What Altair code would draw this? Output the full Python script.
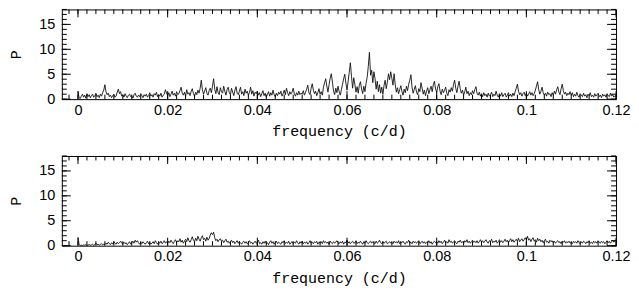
import altair as alt
import pandas as pd

# ---------------- data ----------------
F_STEP = 0.00025  # frequency grid step (c/d), starting at 0

top_power = (
    [1.6, 0.3, 0.1, 0.6, 1.0, 0.4, 0.8, 0.2, 1.1, 0.5, 0.9, 0.3, 0.7, 1.0, 0.4, 0.6, 1.2, 0.5, 0.8, 0.3,
     1.0, 0.6, 1.3, 1.8, 2.9, 1.5, 0.9, 1.2, 0.5, 0.8, 0.3, 0.7, 1.0, 0.4, 0.6, 1.4, 2.0, 1.1, 1.5, 0.6]
    + [0.9, 0.4, 1.1, 0.6, 0.3, 0.8, 1.0, 0.5, 0.7, 0.2, 0.9, 1.2, 0.6, 0.4, 0.8, 0.5, 1.1, 0.7, 0.3, 0.9,
       0.6, 1.0, 0.4, 0.7, 1.3, 0.6, 0.9, 0.4, 1.1, 0.8, 1.4, 0.5, 0.9, 0.6, 1.2, 0.4, 0.8, 1.0, 1.9, 1.2]
    + [0.7, 1.3, 0.5, 1.0, 1.6, 0.8, 1.2, 0.6, 1.5, 0.9, 1.1, 1.7, 2.4, 1.2, 0.8, 1.4, 0.6, 1.9, 1.0, 1.3,
       0.7, 1.6, 2.1, 1.1, 0.6, 1.4, 0.9, 1.8, 1.2, 2.2, 3.8, 1.9, 1.0, 1.6, 2.3, 1.2, 0.8, 1.7, 2.2, 1.3]
    + [2.6, 4.1, 2.0, 1.1, 2.5, 1.3, 0.9, 2.3, 1.5, 1.2, 2.6, 1.6, 0.8, 1.9, 2.4, 1.3, 0.9, 2.2, 1.4, 0.7,
       1.8, 2.5, 1.2, 0.9, 1.6, 2.4, 1.0, 1.5, 0.7, 2.0, 1.2, 1.6, 0.8, 1.3, 2.4, 1.0, 1.7, 0.6, 1.4, 1.1]
    + [1.6, 0.8, 1.3, 0.5, 1.1, 1.7, 0.7, 1.2, 0.4, 1.0, 1.5, 0.6, 1.3, 0.8, 1.8, 0.9, 0.5, 1.2, 0.7, 1.4,
       1.0, 1.6, 0.6, 1.1, 1.8, 0.9, 2.2, 1.3, 0.7, 1.5, 1.0, 1.4, 2.2, 1.1, 0.6, 1.3, 0.8, 1.6, 0.9, 1.2]
    + [1.0, 1.7, 0.8, 1.4, 2.0, 2.8, 1.3, 0.9, 2.2, 3.1, 1.8, 1.1, 1.6, 0.7, 1.3, 2.1, 1.0, 1.5, 0.8, 2.4,
       3.3, 4.1, 2.6, 1.4, 2.9, 4.2, 5.1, 3.4, 1.6, 0.9, 2.2, 1.3, 2.6, 1.5, 0.8, 1.9, 3.0, 4.1, 5.0, 3.2]
    + [1.8, 3.6, 5.4, 7.3, 4.6, 2.2, 4.3, 3.0, 1.4, 2.5, 1.2, 2.8, 3.5, 2.0, 1.1, 2.6, 1.5, 3.2, 4.4, 6.6,
       9.4, 4.8, 5.8, 3.3, 5.5, 4.1, 2.0, 3.6, 1.5, 2.9, 1.2, 2.4, 1.0, 2.7, 3.8, 2.1, 3.4, 5.1, 3.9, 5.5]
    + [4.2, 2.8, 5.1, 3.0, 1.4, 2.3, 1.1, 1.9, 2.7, 1.5, 0.8, 2.0, 1.3, 2.6, 1.7, 3.0, 3.8, 4.9, 2.4, 1.2,
       2.0, 2.7, 1.4, 0.9, 2.1, 1.5, 3.3, 2.2, 1.0, 1.8, 0.7, 1.6, 2.3, 1.1, 1.9, 2.6, 1.5, 2.9, 3.6, 2.0]
    + [1.4, 2.5, 3.1, 1.6, 0.9, 2.0, 1.3, 1.8, 2.4, 1.2, 0.7, 1.9, 1.4, 2.3, 1.6, 2.9, 3.8, 2.2, 1.3, 2.6,
       3.6, 2.1, 1.2, 1.8, 0.8, 1.5, 2.4, 1.1, 1.6, 0.7, 1.3, 0.9, 1.7, 1.1, 1.9, 2.5, 1.2, 0.8, 1.4, 0.6]
    + [1.1, 0.5, 1.3, 0.7, 1.0, 0.4, 1.2, 0.6, 0.9, 1.4, 0.5, 1.0, 0.7, 1.6, 0.8, 0.4, 1.1, 0.6, 1.3, 0.5,
       0.9, 1.2, 0.4, 0.8, 1.3, 0.6, 1.0, 0.5, 1.2, 0.7, 1.5, 2.2, 3.0, 1.6, 0.9, 1.3, 0.6, 1.1, 1.4, 0.7]
    + [1.2, 0.6, 1.0, 1.5, 0.8, 1.3, 0.7, 1.1, 1.8, 2.6, 3.5, 1.9, 1.0, 1.6, 2.4, 1.3, 0.8, 1.2, 0.6, 1.4,
       0.9, 1.1, 0.5, 1.3, 0.8, 1.6, 1.0, 1.9, 2.5, 1.4, 0.9, 2.1, 3.0, 1.7, 1.0, 1.4, 0.7, 1.2, 0.9, 1.5]
    + [0.8, 1.3, 0.5, 1.0, 0.6, 1.4, 0.7, 0.4, 1.1, 0.8, 0.5, 1.2, 0.6, 0.9, 0.3, 1.0, 0.7, 1.3, 0.5, 0.8,
       0.4, 1.1, 0.6, 0.9, 1.2, 0.5, 0.8, 0.3, 1.0, 0.6, 0.9, 0.4, 1.1, 0.7, 0.5, 1.2, 0.6, 0.9, 0.4, 0.7, 0.5]
)

bottom_power = (
    [1.7, 0.2, 0.05, 0.1, 0.05, 0.15, 0.1, 0.2, 0.05, 0.1, 0.25, 0.1, 0.15, 0.3, 0.1, 0.2, 0.5, 0.2, 0.3, 0.1,
     0.25, 0.4, 0.15, 0.3, 0.2, 0.5, 0.3, 0.7, 0.4, 0.2, 0.6, 0.3, 0.8, 0.5, 0.3, 0.7, 0.4, 0.6, 0.9, 0.5]
    + [0.3, 0.7, 0.4, 0.6, 0.2, 0.5, 0.8, 0.3, 0.6, 0.9, 0.5, 1.1, 0.7, 1.0, 0.6, 0.3, 0.7, 0.4, 0.8, 0.5,
       0.3, 0.6, 0.9, 0.4, 0.7, 0.3, 0.5, 0.8, 0.4, 1.0, 0.6, 0.3, 0.7, 0.5, 0.9, 0.4, 0.6, 1.0, 0.5, 0.8]
    + [0.5, 0.9, 0.6, 1.1, 0.7, 0.4, 0.9, 1.2, 0.6, 1.0, 0.8, 1.4, 0.7, 1.1, 0.5, 0.9, 1.3, 0.8, 1.6, 1.0,
       0.7, 1.2, 1.8, 1.1, 0.8, 1.5, 1.0, 1.9, 1.3, 0.9, 1.6, 2.0, 1.2, 1.5, 0.9, 1.7, 1.1, 1.4, 2.1, 2.6]
    + [2.2, 2.7, 1.6, 1.0, 1.3, 0.8, 1.2, 1.4, 0.9, 1.1, 0.6, 1.0, 1.3, 0.7, 0.9, 0.5, 0.8, 1.1, 0.6, 0.9,
       0.4, 0.7, 1.0, 0.5, 0.8, 0.6, 0.3, 0.7, 0.9, 0.5, 0.8, 0.4, 0.6, 1.0, 0.5, 0.7, 0.3, 0.6, 0.9, 0.5]
    + [0.7, 1.1, 0.4, 0.6, 0.3, 0.8, 0.5, 0.9, 0.4, 0.6, 0.2, 0.7, 1.0, 0.5, 0.8, 0.3, 0.6, 0.9, 0.4, 0.7,
       0.5, 0.3, 0.8, 0.6, 1.0, 0.4, 0.7, 0.5, 0.9, 0.3, 0.6, 0.8, 0.4, 0.7, 0.5, 1.0, 0.6, 0.3, 0.8, 0.5]
    + [0.9, 0.4, 0.7, 0.5, 0.8, 0.3, 0.6, 1.0, 0.5, 0.7, 0.4, 0.8, 0.6, 0.9, 0.3, 0.7, 0.5, 0.8, 0.4, 1.0,
       0.6, 0.8, 0.5, 0.7, 0.3, 0.9, 0.6, 0.4, 0.8, 0.5, 0.7, 1.0, 0.6, 0.4, 0.8, 0.5, 0.9, 0.3, 0.7, 0.6]
    + [1.1, 0.5, 0.8, 0.4, 0.7, 0.9, 0.5, 0.6, 1.0, 0.4, 0.7, 0.5, 0.9, 0.6, 0.3, 0.8, 0.5, 1.0, 0.6, 0.4,
       0.7, 0.9, 0.5, 0.8, 0.6, 0.4, 0.9, 0.5, 0.7, 1.1, 0.6, 0.4, 0.8, 0.5, 0.7, 0.9, 0.4, 0.6, 0.8, 0.5]
    + [0.7, 0.4, 0.9, 0.6, 0.8, 0.5, 1.0, 0.4, 0.7, 0.6, 0.9, 0.5, 0.3, 0.8, 0.6, 1.1, 0.5, 0.7, 0.4, 0.9,
       0.6, 0.8, 0.5, 0.7, 1.0, 0.4, 0.6, 0.9, 0.5, 0.8, 0.4, 0.7, 0.6, 1.0, 0.5, 0.8, 0.3, 0.7, 0.9, 0.6]
    + [0.8, 0.5, 1.0, 0.6, 0.9, 0.4, 0.7, 1.1, 0.6, 0.8, 0.5, 1.2, 0.7, 0.9, 0.5, 0.8, 1.0, 0.6, 0.4, 0.9,
       0.7, 1.1, 0.6, 0.8, 0.5, 1.0, 0.7, 1.2, 0.6, 0.9, 0.5, 0.8, 1.1, 0.7, 0.9, 0.6, 1.0, 0.5, 0.8, 1.2]
    + [0.7, 1.0, 0.6, 0.9, 1.2, 0.7, 0.5, 1.0, 0.8, 1.3, 0.6, 0.9, 0.7, 1.1, 0.5, 0.8, 1.2, 0.7, 1.0, 0.6,
       0.9, 1.3, 0.8, 1.1, 0.6, 1.0, 1.4, 0.8, 1.2, 0.7, 1.0, 1.3, 0.9, 1.5, 0.8, 1.1, 1.4, 0.9, 1.2, 1.6]
    + [1.2, 1.9, 1.1, 1.4, 0.8, 1.3, 1.6, 0.9, 1.2, 0.7, 1.5, 1.0, 1.3, 0.8, 1.1, 0.6, 1.0, 1.3, 0.7, 0.9,
       0.5, 1.1, 0.8, 1.0, 0.6, 0.9, 0.5, 0.8, 1.0, 0.6, 0.8, 0.4, 0.9, 0.7, 1.0, 0.5, 0.8, 0.6, 0.9, 0.5]
    + [0.7, 0.4, 0.9, 0.6, 0.8, 0.5, 1.0, 0.6, 0.4, 0.8, 0.5, 0.9, 0.7, 0.4, 0.8, 0.6, 1.0, 0.5, 0.7, 0.4,
       0.9, 0.6, 0.8, 0.5, 1.0, 0.7, 0.5, 0.9, 0.6, 0.8, 0.4, 0.7, 1.0, 0.6, 0.9, 0.5, 0.8, 1.1, 0.7, 1.0, 1.2]
)

x_tick_labels = [0, 0.02, 0.04, 0.06, 0.08, 0.1, 0.12]
y_tick_labels = [0, 5, 10, 15]
x_minor_ticks = [round(-0.002 + 0.002 * i, 3) for i in range(62)]
y_minor_ticks = list(range(0, 19))

X_DOMAIN = [-0.0036, 0.12]
Y_DOMAIN = [0, 18]

W, H = 556, 90

# ---------------- chart ----------------
X_AXIS = alt.Axis(values=x_tick_labels, format=".2~g", title="frequency (c/d)",
                  ticks=False, tickSize=0, domain=False, grid=False,
                  labelPadding=4, titlePadding=7, labelFlush=False,
                  labelBound=False, labelOverlap=False)
Y_AXIS = alt.Axis(values=y_tick_labels, title="P",
                  ticks=False, tickSize=0, domain=False, grid=False,
                  labelPadding=7, titlePadding=15)


def panel(values):
    freq = [round(i * F_STEP, 5) for i in range(len(values))]
    df = pd.DataFrame({"f": freq, "P": values})
    xs = alt.Scale(domain=X_DOMAIN, nice=False, zero=False)
    ys = alt.Scale(domain=Y_DOMAIN, nice=False, zero=False)

    line = alt.Chart(df).mark_line(color="#111111", strokeWidth=0.9).encode(
        x=alt.X("f:Q", scale=xs, axis=X_AXIS),
        y=alt.Y("P:Q", scale=ys, axis=Y_AXIS),
    )

    xt_major = pd.DataFrame({"t": x_tick_labels})
    xt_minor = pd.DataFrame({"t": x_minor_ticks})
    yt_major = pd.DataFrame({"v": y_tick_labels})
    yt_minor = pd.DataFrame({"v": y_minor_ticks})

    layers = [line]
    for d, ln in ((xt_major, 8), (xt_minor, 4.5)):
        base = alt.Chart(d).mark_rule(color="black", strokeWidth=1)
        layers.append(base.encode(x=alt.X("t:Q", scale=xs, axis=X_AXIS),
                                  y=alt.value(H), y2=alt.value(H - ln)))
        layers.append(base.encode(x=alt.X("t:Q", scale=xs, axis=X_AXIS),
                                  y=alt.value(0), y2=alt.value(ln)))
    for d, ln in ((yt_major, 9), (yt_minor, 5)):
        base = alt.Chart(d).mark_rule(color="black", strokeWidth=1)
        layers.append(base.encode(y=alt.Y("v:Q", scale=ys, axis=Y_AXIS),
                                  x=alt.value(0), x2=alt.value(ln)))
        layers.append(base.encode(y=alt.Y("v:Q", scale=ys, axis=Y_AXIS),
                                  x=alt.value(W), x2=alt.value(W - ln)))
    return alt.layer(*layers).properties(width=W, height=H)


chart = (
    alt.vconcat(panel(top_power), panel(bottom_power), spacing=16)
    .properties(padding=0, background="white")
    .configure_view(stroke="black", strokeWidth=1)
    .configure_axis(
        labelFont="Liberation Sans", labelFontSize=14.5, labelColor="black",
        titleFont="Liberation Mono", titleFontSize=15, titleFontWeight="normal",
        titleColor="black",
    )
)

chart.save("out.html", embed_options={"renderer": "svg", "actions": False})
